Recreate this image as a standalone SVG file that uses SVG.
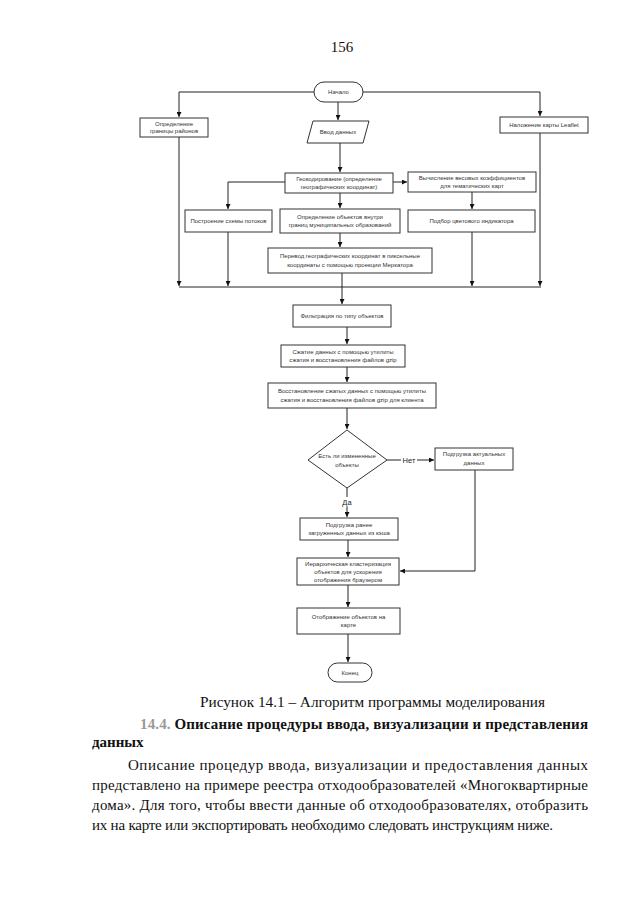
<svg xmlns="http://www.w3.org/2000/svg" width="640" height="905" viewBox="0 0 640 905">
<style>
.bg{fill:#ffffff}
.box{fill:#ffffff;stroke:#333;stroke-width:1}
.t{font-family:"Liberation Sans",Arial,sans-serif;font-size:6px;fill:#333;text-anchor:middle}
.c{fill:none;stroke:#222;stroke-width:1}
.lbl{font-family:"Liberation Sans",Arial,sans-serif;font-size:7.5px;fill:#222;text-anchor:middle}
.serif{font-family:"Liberation Serif","Times New Roman",serif;font-size:15px;fill:#111}
.bold{font-family:"Liberation Serif","Times New Roman",serif;font-size:15px;font-weight:bold;fill:#111}
</style>
<defs>
<marker id="arr" viewBox="0 0 10 10" refX="10" refY="5" markerWidth="5" markerHeight="5" orient="auto" markerUnits="userSpaceOnUse">
<path d="M0,0 L10,5 L0,10 z" fill="#111"/>
</marker>
</defs>
<rect class="bg" x="0" y="0" width="640" height="905"/>
<text class="serif" x="342" y="52" text-anchor="middle" font-size="16">156</text>

<g id="connectors">
<path class="c" d="M314,92 H179 V117" marker-end="url(#arr)"/>
<path class="c" d="M363,92 H540 V116" marker-end="url(#arr)"/>
<path class="c" d="M338,102 V120" marker-end="url(#arr)"/>
<path class="c" d="M340,143 V172" marker-end="url(#arr)"/>
<path class="c" d="M393,182 H407" marker-end="url(#arr)"/>
<path class="c" d="M285,182 H228 V209" marker-end="url(#arr)"/>
<path class="c" d="M340,193 V208" marker-end="url(#arr)"/>
<path class="c" d="M472,192 V209" marker-end="url(#arr)"/>
<path class="c" d="M340,233 V247" marker-end="url(#arr)"/>
<path class="c" d="M179,137 V286" marker-end="url(#arr)"/>
<path class="c" d="M228,232 V286" marker-end="url(#arr)"/>
<path class="c" d="M472,232 V286" marker-end="url(#arr)"/>
<path class="c" d="M540,133 V286" marker-end="url(#arr)"/>
<path class="c" d="M342,273 V287"/>
<path class="c" d="M179,287 H541"/>
<path class="c" d="M342,287 V304" marker-end="url(#arr)"/>
<path class="c" d="M347,327 V344" marker-end="url(#arr)"/>
<path class="c" d="M347,367 V382" marker-end="url(#arr)"/>
<path class="c" d="M347,408 V429" marker-end="url(#arr)"/>
<path class="c" d="M387,460 H434" marker-end="url(#arr)"/>
<path class="c" d="M347,488 V517" marker-end="url(#arr)"/>
<path class="c" d="M348,540 V557" marker-end="url(#arr)"/>
<path class="c" d="M475,470 V571 H400" marker-end="url(#arr)"/>
<path class="c" d="M348,585 V607" marker-end="url(#arr)"/>
<path class="c" d="M348,634 V662" marker-end="url(#arr)"/>
<rect x="401" y="455" width="16" height="10" fill="#fff"/>
<text class="lbl" x="409" y="463">Нет</text>
<rect x="340" y="497" width="14" height="10" fill="#fff"/>
<text class="lbl" x="347" y="505">Да</text>
</g>

<g id="start">
<rect class="box" x="314" y="82" width="49" height="20" rx="10"/>
<text class="t" x="338.5" y="94">Начало</text>
</g>
<g id="borders">
<rect class="box" x="140" y="118" width="68" height="19"/>
<text class="t" x="174" y="126">Определение</text>
<text class="t" x="174" y="133">границы районов</text>
</g>
<g id="input">
<polygon class="box" points="313,121 369,121 363,143 307,143"/>
<text class="t" x="338" y="134">Ввод данных</text>
</g>
<g id="leaflet">
<rect class="box" x="500" y="117" width="88" height="16"/>
<text class="t" x="544" y="127">Наложение карты Leaflet</text>
</g>
<g id="geocode">
<rect class="box" x="285" y="173" width="108" height="20"/>
<text class="t" x="339" y="181">Геокодирование (определение</text>
<text class="t" x="339" y="189">географических координат)</text>
</g>
<g id="weights">
<rect class="box" x="408" y="172" width="128" height="20"/>
<text class="t" x="472" y="180">Вычисление весовых коэффициентов</text>
<text class="t" x="472" y="188">для тематических карт</text>
</g>
<g id="flows">
<rect class="box" x="185" y="210" width="87" height="22"/>
<text class="t" x="228.5" y="223">Построение схемы потоков</text>
</g>
<g id="objects">
<rect class="box" x="280" y="209" width="120" height="24"/>
<text class="t" x="340" y="219">Определение объектов внутри</text>
<text class="t" x="340" y="227">границ муниципальных образований</text>
</g>
<g id="color">
<rect class="box" x="408" y="210" width="127" height="22"/>
<text class="t" x="471.5" y="223">Подбор цветового индикатора</text>
</g>
<g id="mercator">
<rect class="box" x="268" y="248" width="164" height="25"/>
<text class="t" x="350" y="258">Перевод географических координат в пиксельные</text>
<text class="t" x="350" y="267">координаты с помощью проекции Меркатора</text>
</g>
<g id="filter">
<rect class="box" x="293" y="305" width="98" height="22"/>
<text class="t" x="342" y="318">Фильтрация по типу объектов</text>
</g>
<g id="compress">
<rect class="box" x="281" y="345" width="124" height="22"/>
<text class="t" x="343" y="354">Сжатие данных с помощью утилиты</text>
<text class="t" x="343" y="362">сжатия и восстановления файлов gzip</text>
</g>
<g id="restore">
<rect class="box" x="268" y="383" width="168" height="25"/>
<text class="t" x="352" y="393">Восстановление сжатых данных с помощью утилиты</text>
<text class="t" x="352" y="402">сжатия и восстановления файлов gzip для клиента</text>
</g>
<g id="decision">
<polygon class="box" points="347,430 387,460 347,488 308,460"/>
<text class="t" x="347" y="458">Есть ли измененные</text>
<text class="t" x="347" y="467">объекты</text>
</g>
<g id="fresh">
<rect class="box" x="435" y="448" width="78" height="22"/>
<text class="t" x="474" y="456">Подгрузка актуальных</text>
<text class="t" x="474" y="465">данных</text>
</g>
<g id="cache">
<rect class="box" x="300" y="518" width="98" height="22"/>
<text class="t" x="349" y="527">Подгрузка ранее</text>
<text class="t" x="349" y="535">загруженных данных из кэша</text>
</g>
<g id="cluster">
<rect class="box" x="297" y="558" width="102" height="27"/>
<text class="t" x="348" y="566">Иерархическая кластеризация</text>
<text class="t" x="348" y="574">объектов для ускорения</text>
<text class="t" x="348" y="582">отображения браузером</text>
</g>
<g id="display">
<rect class="box" x="297" y="608" width="103" height="26"/>
<text class="t" x="348.5" y="619">Отображение объектов на</text>
<text class="t" x="348.5" y="627">карте</text>
</g>
<g id="end">
<rect class="box" x="328" y="663" width="44" height="19" rx="9.5"/>
<text class="t" x="350" y="674.5">Конец</text>
</g>

<g id="body">
<text class="serif" x="200" y="707" textLength="345" lengthAdjust="spacingAndGlyphs">Рисунок 14.1 – Алгоритм программы моделирования</text>
<text class="bold" x="140" y="729" textLength="448" lengthAdjust="spacing"><tspan fill="#999">14.4.</tspan> Описание  процедуры  ввода,  визуализации  и  представления</text>
<text class="bold" x="92" y="747">данных</text>
<text class="serif" x="128" y="770" textLength="460" lengthAdjust="spacing">Описание процедур ввода, визуализации и предоставления данных</text>
<text class="serif" x="92" y="790" textLength="496" lengthAdjust="spacing">представлено на примере реестра отходообразователей «Многоквартирные</text>
<text class="serif" x="92" y="810" textLength="496" lengthAdjust="spacing">дома». Для того, чтобы ввести данные об отходообразователях, отобразить</text>
<text class="serif" x="92" y="830" textLength="461" lengthAdjust="spacing">их на карте или экспортировать необходимо следовать инструкциям ниже.</text>
</g>
</svg>
